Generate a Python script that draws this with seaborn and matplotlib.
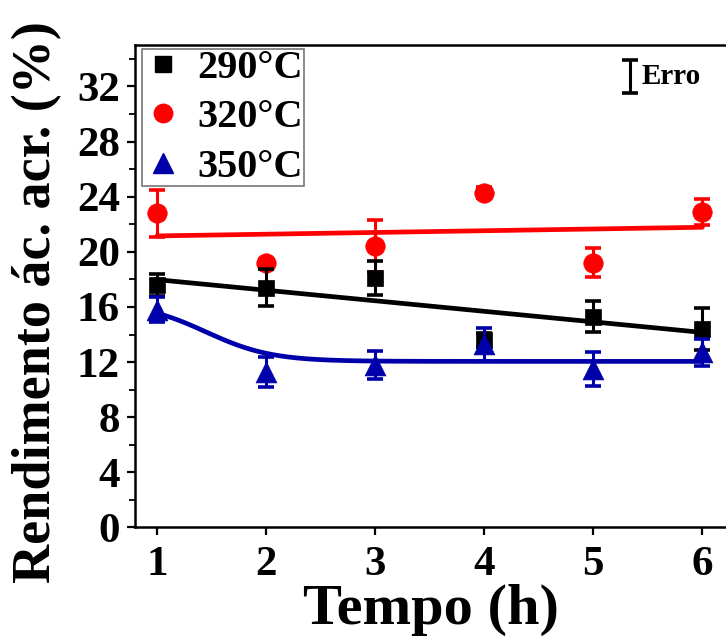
import numpy as np
import pandas as pd
import matplotlib
matplotlib.use("Agg")
import matplotlib.pyplot as plt
from matplotlib.ticker import MultipleLocator
import seaborn as sns

# Measured yields (%) vs reaction time (h)
tempo = [1, 2, 3, 4, 5, 6]
rend_290 = [17.6, 17.4, 18.1, 13.6, 15.3, 14.4]
erro_290 = [0.8, 1.35, 1.2, 0.5, 1.15, 1.5]
rend_320 = [22.8, 19.2, 20.4, 24.3, 19.2, 22.9]
erro_320 = [1.7, 0.3, 1.9, 0.4, 1.05, 0.95]
rend_350 = [15.8, 11.3, 11.8, 13.3, 11.5, 12.7]
erro_350 = [0.9, 1.1, 1.0, 1.2, 1.2, 1.0]

# Boltzmann (sigmoidal) decay fitted to the 350 °C series
boltz_base, boltz_span, boltz_x0, boltz_dx = 12.05, 4.28, 1.45, 0.30

series_labels = ["290°C", "320°C", "350°C"]
series_colors = {"290°C": "#000000", "320°C": "#FF0000", "350°C": "#0000AA"}
series_markers = {"290°C": "s", "320°C": "o", "350°C": "^"}
marker_sizes = {"290°C": 12, "320°C": 14, "350°C": 15}

sns.set_theme(style="ticks")
plt.rcParams["font.family"] = ["Liberation Serif", "DejaVu Serif"]
plt.rcParams["font.weight"] = "bold"
plt.rcParams["axes.labelweight"] = "bold"
for key in ["text.color", "axes.labelcolor", "xtick.color", "ytick.color",
            "axes.edgecolor"]:
    plt.rcParams[key] = "black"

df = pd.DataFrame({
    "Tempo": tempo * 3,
    "Rend": rend_290 + rend_320 + rend_350,
    "Erro": erro_290 + erro_320 + erro_350,
    "Serie": sum([[s] * len(tempo) for s in series_labels], []),
})

fig = plt.figure(figsize=(7.26, 6.39), dpi=100)
ax = fig.add_axes([0.186, 0.1745, 0.814, 0.755])

# Fitted trend lines
xfit = np.linspace(1, 6, 300)
fits = []
for s in ["290°C", "320°C"]:
    sub = df[df.Serie == s]
    k, b = np.polyfit(sub.Tempo, sub.Rend, 1)
    fits.append(pd.DataFrame({"x": xfit, "y": k * xfit + b, "Serie": s}))
fits.append(pd.DataFrame({
    "x": xfit,
    "y": boltz_base + boltz_span / (1 + np.exp((xfit - boltz_x0) / boltz_dx)),
    "Serie": "350°C"}))
fit_df = pd.concat(fits, ignore_index=True)

z_order = {"320°C": 2, "290°C": 3, "350°C": 4}
handles = {}
for s in series_labels:
    sub = df[df.Serie == s]
    col = series_colors[s]
    sns.lineplot(data=fit_df[fit_df.Serie == s], x="x", y="y", ax=ax,
                 color=col, lw=3.4, zorder=z_order[s], legend=False)
    ax.errorbar(sub.Tempo, sub.Rend, yerr=sub.Erro, fmt="none", ecolor=col,
                elinewidth=2.2, capsize=5.5, capthick=2.6, zorder=z_order[s] + 0.5)
    sns.scatterplot(x=sub.Tempo, y=sub.Rend, ax=ax, color=col,
                    marker=series_markers[s], s=marker_sizes[s] ** 2,
                    edgecolor=col, linewidth=0.5, zorder=z_order[s] + 0.6,
                    legend=False)
    handles[s] = plt.Line2D([], [], ls="none", marker=series_markers[s],
                            color=col, markersize=marker_sizes[s] * 0.95)

ax.set_xlim(0.8, 6.217)
ax.set_ylim(0, 35)
ax.set_xticks(tempo)
ax.yaxis.set_major_locator(MultipleLocator(4))
ax.yaxis.set_minor_locator(MultipleLocator(2))
ax.tick_params(axis="x", which="major", direction="out", length=6,
               width=1.6, labelsize=31, pad=7)
ax.tick_params(axis="y", which="major", direction="out", length=6,
               width=1.6, labelsize=31, pad=5)
ax.tick_params(axis="y", which="minor", direction="out", length=4,
               width=1.3)
for lab in ax.get_xticklabels() + ax.get_yticklabels():
    lab.set_fontweight("bold")

for side in ["left", "bottom", "top"]:
    ax.spines[side].set_linewidth(1.8)
ax.spines["right"].set_visible(False)

ax.set_xlabel("Tempo (h)", fontsize=42, fontweight="bold", labelpad=0)
ax.set_ylabel("Rendimento ác. acr. (%)", fontsize=39, fontweight="bold")
ax.yaxis.set_label_coords(-0.123, 0.467)

leg = ax.legend([handles[s] for s in series_labels], series_labels,
                loc="upper left", bbox_to_anchor=(0.005, 1.0),
                prop={"size": 29, "weight": "bold"}, frameon=True,
                fancybox=False, edgecolor="#555555", handlelength=1.0,
                handletextpad=0.35, labelspacing=0.3, borderpad=0.02,
                borderaxespad=0.1)
leg.get_frame().set_linewidth(1.2)

# Error scale key in the upper right corner
ax.errorbar([5.34], [32.75], yerr=[1.2], fmt="none", ecolor="black",
            elinewidth=2.2, capsize=6, capthick=2.6, zorder=5)
ax.text(5.44, 32.75, "Erro", fontsize=21, fontweight="bold",
        ha="left", va="center")

fig.savefig("out.png", dpi=100)
